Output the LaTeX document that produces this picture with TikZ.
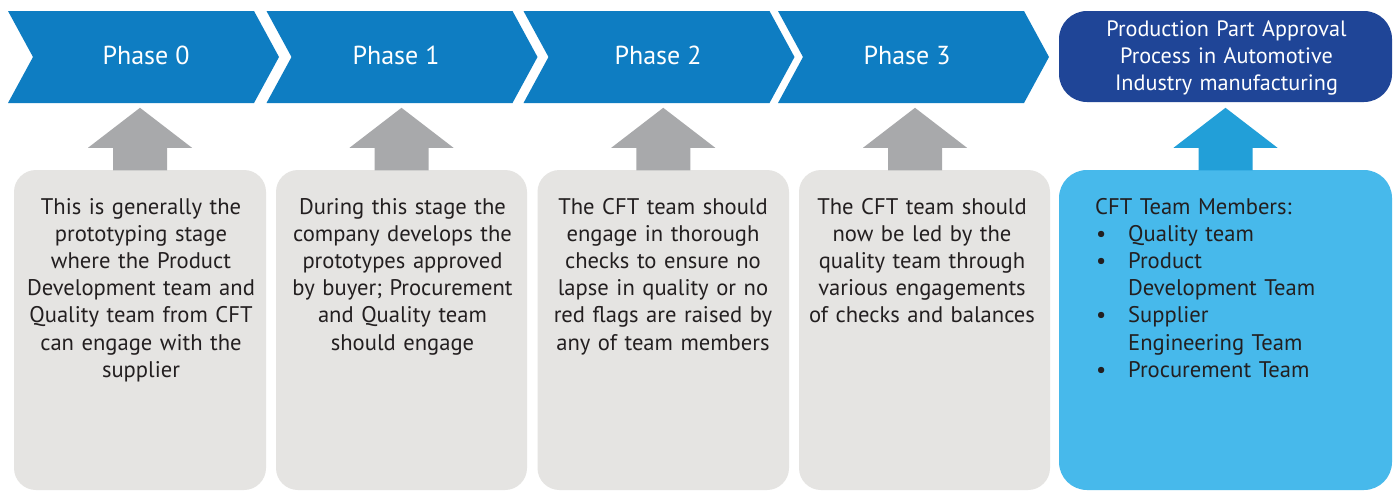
\documentclass[tikz,border=0pt]{standalone}
\usepackage{fontspec}
\setmainfont{PT Sans}
\usetikzlibrary{calc}
\definecolor{chevblue}{RGB}{14,125,194}
\definecolor{darkblue}{RGB}{31,69,151}
\definecolor{grayarr}{RGB}{168,169,171}
\definecolor{grayfill}{RGB}{229,228,226}
\definecolor{bluearr}{RGB}{34,159,216}
\definecolor{lightblue}{RGB}{71,185,235}
\definecolor{txtdark}{RGB}{35,31,32}
\tikzset{
  chevron/.style={fill=chevblue},
  phasetext/.style={text=white, font=\fontsize{26}{30}\selectfont, inner sep=0pt, anchor=base},
  graybox/.style={fill=grayfill, rounded corners=22pt, minimum height=320pt, inner sep=0pt},
  bodytext/.style={text=txtdark, font=\fontsize{22.6}{27.2}\selectfont, text width=250pt, align=center, inner sep=0pt, anchor=base},
  toptext/.style={text=white, font=\fontsize{22.2}{26.7}\selectfont, text width=320pt, align=center, inner sep=0pt, anchor=base},
  listtext/.style={text=txtdark, font=\fontsize{22.6}{27.2}\selectfont, text width=290pt, align=left, inner sep=0pt, anchor=base west},
}
\newcommand{\blockarrow}[3]{%
  \fill[#1] ($(#2.north)+(#3,0)+(-27,0.5)$) -- ($(#2.north)+(#3,0)+(-27,-22)$)
    -- ($(#2.north)+(#3,0)+(-52,-22)$) -- ($(#2.north)+(#3,0)+(0,-62)$)
    -- ($(#2.north)+(#3,0)+(52,-22)$) -- ($(#2.north)+(#3,0)+(27,-22)$)
    -- ($(#2.north)+(#3,0)+(27,0.5)$) -- cycle;}
\newcommand{\itembullet}{\makebox[33pt][l]{\hspace{1pt}\textbullet}}
\begin{document}
\begin{tikzpicture}[x=1pt,y=-1pt]
\useasboundingbox (0,0) rectangle (1395,491);
\fill[white] (0,0) rectangle (1395,491);

% chevrons
\foreach \xl/\xt/\i/\lab in {8/146/0/Phase 0, 266.5/396/1/Phase 1, 523.5/658/2/Phase 2, 778/907/3/Phase 3}{
  \fill[chevron] (\xl,11) -- ++(246,0) -- ++(25,46) -- ++(-25,46) -- ++(-246,0) -- ++(25,-46) -- cycle;
  \node[phasetext] (p\i) at (\xt,64) {\lab};
}

% top right box
\node[fill=darkblue, rounded corners=28pt, minimum width=333pt, minimum height=91pt, inner sep=0pt] (ppap) at (1225.5,56.5) {};
\node[toptext] (ppaptxt) at (1226.5,36.7) {Production Part Approval\\Process in Automotive\\Industry manufacturing};

% boxes
\node[graybox, minimum width=252pt] (bx0) at (140,330) {};
\node[graybox, minimum width=251pt] (bx1) at (401.5,330) {};
\node[graybox, minimum width=251.5pt] (bx2) at (663.25,330) {};
\node[graybox, minimum width=251pt] (bx3) at (924.5,330) {};
\node[fill=lightblue, rounded corners=28pt, minimum width=333pt, minimum height=320pt, inner sep=0pt] (bx4) at (1225.5,330) {};

% arrows from boxes up to the phases
\blockarrow{grayarr}{bx0}{0}
\blockarrow{grayarr}{bx1}{0}
\blockarrow{grayarr}{bx2}{0}
\blockarrow{grayarr}{bx3}{-9.5}
\blockarrow{bluearr}{bx4}{0}

% texts
\node[bodytext] (t0) at (141,214) {This is generally the\\prototyping stage\\where the Product\\Development team and\\Quality team from CFT\\can engage with the\\supplier};
\node[bodytext] (t1) at (402.5,214) {During this stage the\\company develops the\\prototypes approved\\by buyer; Procurement\\and Quality team\\should engage};
\node[bodytext] (t2) at (663,214) {The CFT team should\\engage in thorough\\checks to ensure no\\lapse in quality or no\\red flags are raised by\\any of team members};
\node[bodytext] (t3) at (922,214) {The CFT team should\\now be led by the\\quality team through\\various engagements\\of checks and balances};
\node[listtext] (t4) at (1095,214) {CFT Team Members:\\\itembullet Quality team\\\itembullet Product\\\hspace*{33pt}Development Team\\\itembullet Supplier\\\hspace*{33pt}Engineering Team\\\itembullet Procurement Team};
\end{tikzpicture}
\end{document}
